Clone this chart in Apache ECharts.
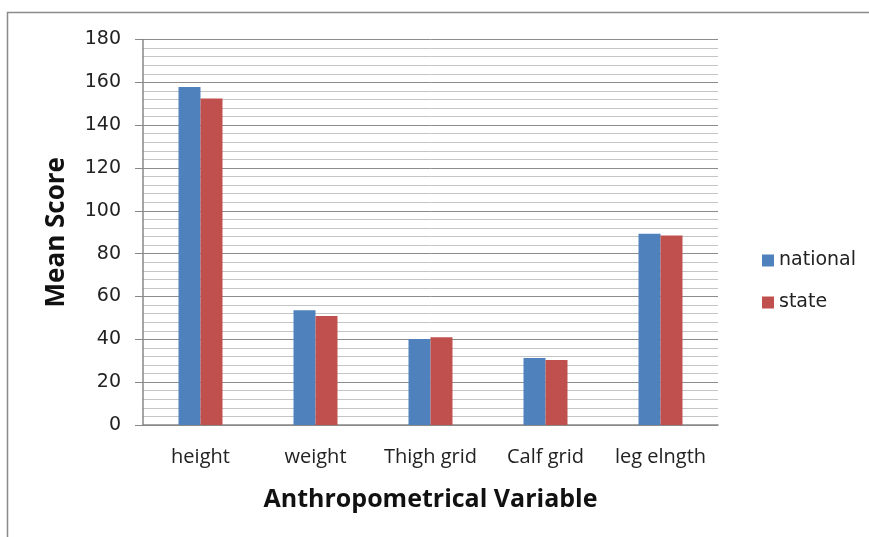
<!DOCTYPE html>
<html>
<head>
<meta charset="utf-8">
<script src="https://cdn.jsdelivr.net/npm/echarts@6/dist/echarts.min.js"></script>
<style>
  html, body { margin: 0; padding: 0; background: #fff; }
  #chart { width: 869px; height: 537px; }
</style>
</head>
<body>
<div id="chart"></div>
<script>
const categories = ["height", "weight", "Thigh grid", "Calf grid", "leg elngth"];
const nationalValues = [157.8, 53.6, 40.2, 31.3, 89.3];
const stateValues = [152.5, 50.9, 41.0, 30.3, 88.5];
const yTicks = { min: 0, max: 180, interval: 20 };

const chart = echarts.init(document.getElementById("chart"));

const option = {
  animation: false,
  backgroundColor: "#fff",
  grid: { left: 143, right: 151, top: 39.5, bottom: 112 },
  legend: {
    orient: "vertical",
    left: 757,
    top: 246,
    itemWidth: 12,
    itemHeight: 12,
    itemGap: 23,
    icon: "rect",
    textStyle: { fontFamily: "DejaVu Sans", fontSize: 19, color: "#222" },
    data: ["national", "state"]
  },
  xAxis: {
    type: "category",
    data: categories,
    name: "Anthropometrical Variable",
    nameLocation: "middle",
    nameGap: 62,
    nameTextStyle: { fontFamily: "Open Sans", fontWeight: "bold", fontSize: 25, color: "#111" },
    axisLine: { lineStyle: { color: "#888", width: 1.5 } },
    axisTick: { show: false },
    axisLabel: { interval: 0, margin: 22, fontFamily: "Open Sans", fontSize: 20, color: "#222" }
  },
  yAxis: {
    type: "value",
    min: yTicks.min,
    max: yTicks.max,
    interval: yTicks.interval,
    name: "Mean Score",
    nameLocation: "middle",
    nameGap: 73,
    nameTextStyle: { fontFamily: "Open Sans", fontWeight: "bold", fontSize: 26, color: "#111" },
    axisLine: { show: true, lineStyle: { color: "#888", width: 1.5 } },
    axisTick: { show: true, length: 8, lineStyle: { color: "#888" } },
    axisLabel: { margin: 22, fontFamily: "DejaVu Sans", fontSize: 19, color: "#222" },
    splitLine: { lineStyle: { color: "#8c8c8c", width: 1 } },
    minorTick: { show: false, splitNumber: 5 },
    minorSplitLine: { show: true, lineStyle: { color: "#c4c4c4", width: 1 } }
  },
  series: [
    {
      name: "national",
      type: "bar",
      data: nationalValues,
      barWidth: 22,
      barGap: "0%",
      itemStyle: { color: "#4F81BD" }
    },
    {
      name: "state",
      type: "bar",
      data: stateValues,
      barWidth: 22,
      barGap: "0%",
      itemStyle: { color: "#C0504D" }
    }
  ],
  graphic: [
    {
      type: "polyline",
      shape: { points: [[7.5, 537], [7.5, 12.5], [869, 12.5]] },
      style: { stroke: "#8a8a8a", lineWidth: 1.5, fill: null },
      silent: true
    }
  ]
};

chart.setOption(option);
</script>
</body>
</html>
